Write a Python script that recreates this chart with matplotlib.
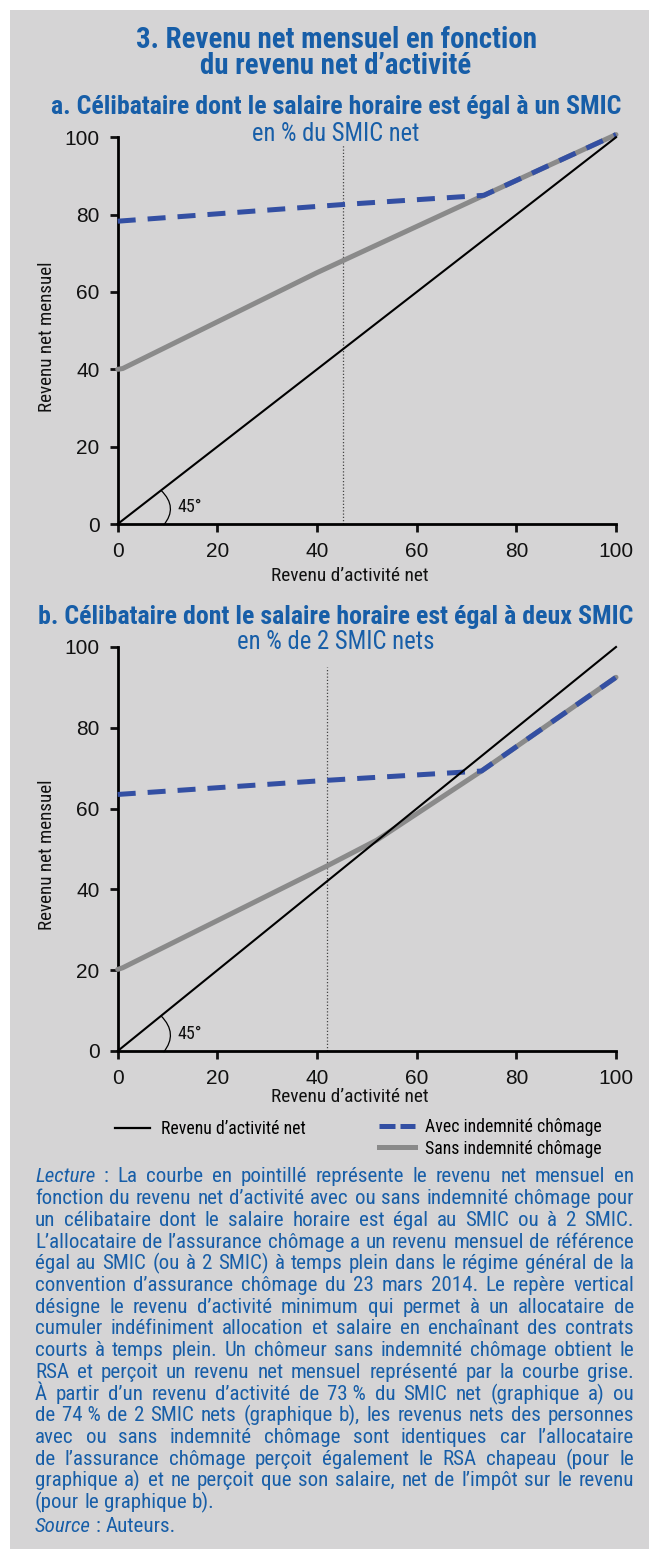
import matplotlib
matplotlib.use("Agg")
import matplotlib.pyplot as plt
from matplotlib import font_manager
from matplotlib.patches import Rectangle, PathPatch
from matplotlib.path import Path
from matplotlib.lines import Line2D

# ---- data ----
diag = [0, 100]

# panel a : en % du SMIC net
sans_x_a = [0, 1, 40, 73.5, 100]
sans_y_a = [40, 40.2, 65, 85, 100.7]
avec_x_a = [0, 45, 73.5, 100]
avec_y_a = [78.3, 82.6, 85, 100.7]
seuil_a = 45.3
seuil_top_a = 98

# panel b : en % de 2 SMIC nets
sans_x_b = [0, 1, 42, 52, 73, 100]
sans_y_b = [20.2, 20.6, 45.8, 52.2, 69.3, 92.5]
avec_x_b = [0, 42, 73, 100]
avec_y_b = [63.5, 67, 69.3, 92.5]
seuil_b = 42.1
seuil_top_b = 95

ticks = [0, 20, 40, 60, 80, 100]

title = ["3. Revenu net mensuel en fonction", "du revenu net d\u2019activit\u00e9"]
sub_a = "a. C\u00e9libataire dont le salaire horaire est \u00e9gal \u00e0 un SMIC"
unit_a = "en % du SMIC net"
sub_b = "b. C\u00e9libataire dont le salaire horaire est \u00e9gal \u00e0 deux SMIC"
unit_b = "en % de 2 SMIC nets"
xlab = "Revenu d\u2019activit\u00e9 net"
ylab = "Revenu net mensuel"
leg_labels = ["Revenu d\u2019activit\u00e9 net", "Avec indemnit\u00e9 ch\u00f4mage", "Sans indemnit\u00e9 ch\u00f4mage"]

lecture = [
    "*Lecture : La courbe en pointill\u00e9 repr\u00e9sente le revenu net mensuel en",
    "fonction du revenu net d\u2019activit\u00e9 avec ou sans indemnit\u00e9 ch\u00f4mage pour",
    "un c\u00e9libataire dont le salaire horaire est \u00e9gal au SMIC ou \u00e0 2 SMIC.",
    "L\u2019allocataire de l\u2019assurance ch\u00f4mage a un revenu mensuel de r\u00e9f\u00e9rence",
    "\u00e9gal au SMIC (ou \u00e0 2 SMIC) \u00e0 temps plein dans le r\u00e9gime g\u00e9n\u00e9ral de la",
    "convention d\u2019assurance ch\u00f4mage du 23 mars 2014. Le rep\u00e8re vertical",
    "d\u00e9signe le revenu d\u2019activit\u00e9 minimum qui permet \u00e0 un allocataire de",
    "cumuler ind\u00e9finiment allocation et salaire en encha\u00eenant des contrats",
    "courts \u00e0 temps plein. Un ch\u00f4meur sans indemnit\u00e9 ch\u00f4mage obtient le",
    "RSA et per\u00e7oit un revenu net mensuel repr\u00e9sent\u00e9 par la courbe grise.",
    "\u00c0 partir d\u2019un revenu d\u2019activit\u00e9 de 73\u00a0% du SMIC net (graphique a) ou",
    "de 74\u00a0% de 2 SMIC nets (graphique b), les revenus nets des personnes",
    "avec ou sans indemnit\u00e9 ch\u00f4mage sont identiques car l\u2019allocataire",
    "de l\u2019assurance ch\u00f4mage per\u00e7oit \u00e9galement le RSA chapeau (pour le",
    "graphique a) et ne per\u00e7oit que son salaire, net de l\u2019imp\u00f4t sur le revenu",
    "(pour le graphique b).",
]
source = "*Source : Auteurs."

# ---- style ----
BG = "#d5d4d5"
BLUE_TXT = "#175ea8"
BLUE_LINE = "#334fa3"
GREY_LINE = "#8a8a8a"
INK = "#111111"

names = {f.name for f in font_manager.fontManager.ttflist}
def pick(*cands):
    for c in cands:
        if c in names:
            return c
    return "DejaVu Sans"

NARROW = pick("Liberation Sans Narrow", "Roboto Condensed", "Liberation Sans")
REG = pick("Liberation Sans", "DejaVu Sans")

W, H = 649, 1549
fig = plt.figure(figsize=(W / 100, H / 100), dpi=100)
fig.patch.set_facecolor("white")
fig.add_artist(Rectangle((10 / W, 0), 1, 1 - 10 / H, transform=fig.transFigure,
                         facecolor=BG, edgecolor="none", zorder=-10))
fig.canvas.draw()
rend = fig.canvas.get_renderer()


def px(x, y):
    return x / W, 1 - y / H


def ftext(x, y, s, width=None, **kw):
    kw.setdefault("family", NARROW)
    t = fig.text(*px(x, y), s, **kw)
    if width:
        w = t.get_window_extent(rend).width
        t.set_fontsize(t.get_fontsize() * width / w)
    return t


def panel(rect_px, sans_x, sans_y, avec_x, avec_y, seuil, seuil_top):
    x0, y0, x1, y1 = rect_px
    ax = fig.add_axes([x0 / W, 1 - y1 / H, (x1 - x0) / W, (y1 - y0) / H])
    ax.set_facecolor("none")
    ax.set_xlim(0, 100)
    ax.set_ylim(0, 100)
    ax.vlines(seuil, 0, seuil_top, colors="#444444", linestyles=(0, (1, 1.6)), lw=0.9)
    ax.plot(sans_x, sans_y, color=GREY_LINE, lw=3.6, solid_capstyle="round", clip_on=False, zorder=3)
    ax.plot(avec_x, avec_y, color=BLUE_LINE, lw=3.6, dashes=(3.6, 2.4), clip_on=False, zorder=4)
    ax.plot(diag, diag, color="black", lw=1.5, clip_on=False, zorder=5)
    # angle mark
    arc = Path([(8.7, 8.7), (12.2, 4.3), (9.2, -0.3)], [Path.MOVETO, Path.CURVE3, Path.CURVE3])
    ax.add_patch(PathPatch(arc, fill=False, lw=0.9, edgecolor="black", clip_on=False))
    ax.text(12.0, 4.3, "45\u00b0", fontsize=13, family=NARROW, va="center", ha="left", color=INK)
    for sp in ("top", "right"):
        ax.spines[sp].set_visible(False)
    for sp in ("left", "bottom"):
        ax.spines[sp].set_linewidth(2)
    ax.set_xticks(ticks)
    ax.set_yticks(ticks)
    ax.tick_params(direction="out", length=6, width=2, labelsize=15, colors=INK, pad=7)
    for lab in ax.get_xticklabels() + ax.get_yticklabels():
        lab.set_family(REG)
    return ax


# titles
ftext(336, 40, title[0], width=400, fontsize=16, weight="bold", color=BLUE_TXT, ha="center", va="center")
ftext(336, 66, title[1], width=271, fontsize=16, weight="bold", color=BLUE_TXT, ha="center", va="center")
ftext(336, 107, sub_a, width=572, fontsize=16, weight="bold", color=BLUE_TXT, ha="center", va="center")
ftext(336, 134, unit_a, width=167, fontsize=13, color=BLUE_TXT, ha="center", va="center")
ftext(336, 617, sub_b, width=596, fontsize=16, weight="bold", color=BLUE_TXT, ha="center", va="center")
ftext(336, 642, unit_b, width=197, fontsize=13, color=BLUE_TXT, ha="center", va="center")

panel((117.7, 137.3, 616, 524), sans_x_a, sans_y_a, avec_x_a, avec_y_a, seuil_a, seuil_top_a)
panel((117.7, 647, 616, 1051), sans_x_b, sans_y_b, avec_x_b, avec_y_b, seuil_b, seuil_top_b)

for yy in (576, 1097):
    ftext(350, yy, xlab, width=157, fontsize=11, color=INK, ha="center", va="center")
for yy in (337, 855):
    t = ftext(47, yy, ylab, fontsize=11, color=INK, ha="center", va="center", rotation=90)
    h = t.get_window_extent(rend).height
    t.set_fontsize(t.get_fontsize() * 150 / h)

# legend
h_black = Line2D([], [], color="black", lw=1.6)
h_blue = Line2D([], [], color=BLUE_LINE, lw=3.6, dashes=(3.2, 1.0))
h_grey = Line2D([], [], color=GREY_LINE, lw=3.6)
legkw = dict(frameon=False, prop={"family": NARROW, "size": 12.8}, borderpad=0,
             borderaxespad=0, handlelength=2.0, handletextpad=0.6, labelspacing=0.2)
fig.legend([h_black], leg_labels[:1], loc="upper left", bbox_to_anchor=px(114.5, 1120), **legkw)
fig.legend([h_blue, h_grey], leg_labels[1:], loc="upper left", bbox_to_anchor=px(379, 1118), **legkw)


# justified reading note
def words_of(line):
    out = []
    for w in line.split(" "):
        if w.startswith("*"):
            out.append((w[1:], "italic"))
        else:
            out.append((w, "normal"))
    return out


LEFT, RIGHT = 35, 634
size = 12
widest = 0
for line in lecture:
    t = fig.text(0, 0, line.replace("*", ""), fontsize=size, family=NARROW)
    widest = max(widest, t.get_window_extent(rend).width)
    t.remove()
size = size * (RIGHT - LEFT) * 0.985 / widest


def put_line(line, y, justify):
    ws = words_of(line)
    ts = [fig.text(*px(0, y), w, fontsize=size, style=st, family=NARROW,
                   color=BLUE_TXT, va="center", ha="left") for w, st in ws]
    widths = [t.get_window_extent(rend).width for t in ts]
    if justify and len(ts) > 1:
        gap = (RIGHT - LEFT - sum(widths)) / (len(ts) - 1)
    else:
        sp = fig.text(0, 0, "a a", fontsize=size, family=NARROW)
        sp2 = fig.text(0, 0, "aa", fontsize=size, family=NARROW)
        gap = sp.get_window_extent(rend).width - sp2.get_window_extent(rend).width
        sp.remove()
        sp2.remove()
    x = LEFT
    for t, w in zip(ts, widths):
        t.set_x(x / W)
        x += w + gap


y = 1177
for i, line in enumerate(lecture):
    put_line(line, y, i < len(lecture) - 1)
    y += 21.7
put_line(source, y + 2.5, False)

fig.savefig("out.png", dpi=100, facecolor=fig.get_facecolor())
